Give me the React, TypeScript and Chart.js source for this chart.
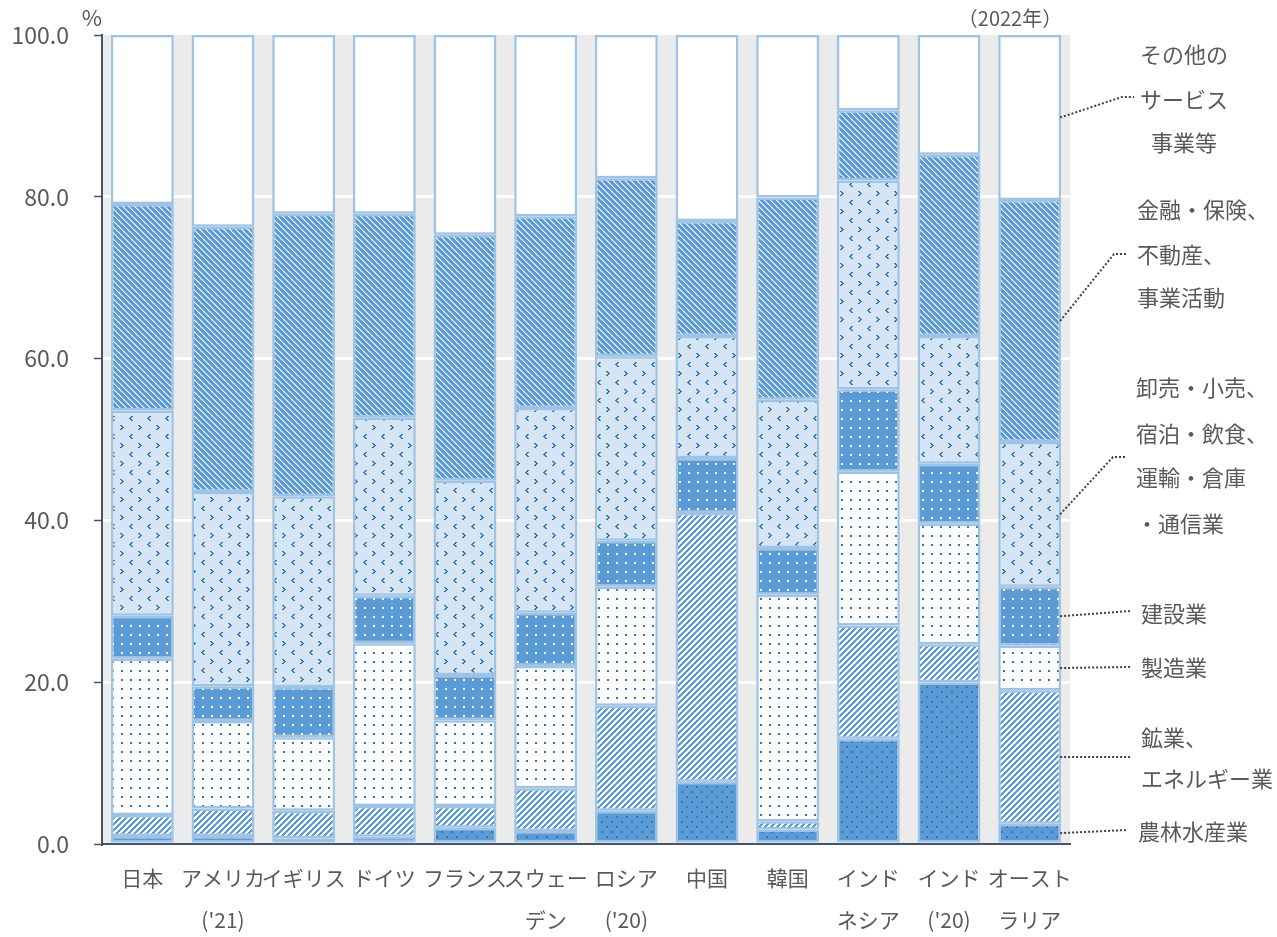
import React, { useEffect, useRef } from 'react';
import { Chart, registerables } from 'chart.js';
Chart.register(...registerables);

const categories: string[][] = [
  ['日本'], ['アメリカ', "('21)"], ['イギリス'], ['ドイツ'], ['フランス'], ['スウェー', 'デン'],
  ['ロシア', "('20)"], ['中国'], ['韓国'], ['インド', 'ネシア'], ['インド', "('20)"], ['オースト', 'ラリア'],
];

const agriculture = [1.0, 1.0, 0.7, 0.9, 2.0, 1.6, 4.1, 7.7, 1.8, 13.0, 20.0, 2.5];
const mining = [2.6, 3.4, 3.4, 3.8, 2.7, 5.3, 13.0, 33.2, 1.0, 14.0, 4.7, 16.5];
const manufacturing = [19.3, 10.8, 9.1, 20.1, 10.6, 15.1, 14.7, 0.0, 28.0, 19.0, 14.9, 5.5];
const construction = [5.3, 4.3, 6.2, 5.9, 5.6, 6.6, 5.7, 6.8, 5.8, 10.2, 7.4, 7.3];
const wholesale = [25.4, 24.0, 23.6, 22.0, 24.0, 25.3, 22.8, 15.1, 18.3, 25.8, 15.8, 17.9];
const finance = [25.5, 32.8, 34.9, 25.2, 30.4, 23.7, 22.0, 14.2, 25.0, 8.7, 22.4, 29.9];
const otherServices = [20.9, 23.7, 22.1, 22.1, 24.7, 22.4, 17.7, 23.0, 20.1, 9.3, 14.8, 20.4];

const seriesNames = ['農林水産業', '鉱業、エネルギー業', '製造業', '建設業', '卸売・小売、宿泊・飲食、運輸・倉庫・通信業', '金融・保険、不動産、事業活動', 'その他のサービス事業等'];
const yTicks = [0, 20, 40, 60, 80, 100];

const annotations = [
  { ds: 6, lines: ['その他の', 'サービス', '事業等'], x: 1184, ys: [55, 100, 143], align: 'center', bend: [1122, 97], end: [1134, 97] },
  { ds: 5, lines: ['金融・保険、', '不動産、', '事業活動'], x: 1137, ys: [210, 255, 298], align: 'left', bend: [1114, 254], end: [1128, 254] },
  { ds: 4, lines: ['卸売・小売、', '宿泊・飲食、', '運輸・倉庫', '・通信業'], x: 1136, ys: [388, 434, 478, 524], align: 'left', bend: [1113, 457], end: [1125, 457] },
  { ds: 3, lines: ['建設業'], x: 1141, ys: [614], align: 'left', bend: null, end: [1130, 611] },
  { ds: 2, lines: ['製造業'], x: 1141, ys: [668], align: 'left', bend: null, end: [1130, 667] },
  { ds: 1, lines: ['鉱業、', 'エネルギー業'], x: 1141, ys: [738, 779], align: 'left', bend: null, end: [1130, 757] },
  { ds: 0, lines: ['農林水産業'], x: 1138, ys: [832], align: 'left', bend: null, end: [1127, 830] },
];

const FONT = '"Noto Sans CJK JP", "Noto Sans", sans-serif';
const TEXT = '#595959';
const BLUE = '#5b9bd5';
const DARK = '#2e75b6';

function tile(w: number, h: number, draw: (g: CanvasRenderingContext2D) => void) {
  const c = document.createElement('canvas');
  c.width = w; c.height = h;
  const g = c.getContext('2d')!;
  draw(g);
  const tmp = document.createElement('canvas').getContext('2d')!;
  return tmp.createPattern(c, 'repeat')!;
}

function makePatterns() {
  const ag = tile(10, 10, g => {
    g.fillStyle = BLUE; g.fillRect(0, 0, 10, 10);
    g.fillStyle = '#3a78b8';
    g.fillRect(1, 1, 2, 2); g.fillRect(6, 6, 2, 2);
  });
  const mine = tile(6, 6, g => {
    for (let x = 0; x < 6; x++) for (let y = 0; y < 6; y++) {
      g.fillStyle = (x + y) % 6 < 3 ? BLUE : '#ffffff';
      g.fillRect(x, y, 1, 1);
    }
  });
  const manu = tile(9, 9, g => {
    g.fillStyle = '#ffffff'; g.fillRect(0, 0, 9, 9);
    g.fillStyle = DARK; g.fillRect(4, 4, 2, 2);
  });
  const cons = tile(9, 9, g => {
    g.fillStyle = BLUE; g.fillRect(0, 0, 9, 9);
    g.fillStyle = '#ffffff'; g.fillRect(4, 4, 2, 2);
  });
  const whole = tile(18, 18, g => {
    g.fillStyle = '#d6e5f4'; g.fillRect(0, 0, 18, 18);
    g.fillStyle = '#2f78bf';
    const lt = [[2, 0], [1, 1], [0, 2], [1, 3], [2, 4]];
    const gt = [[0, 0], [1, 1], [2, 2], [1, 3], [0, 4]];
    lt.forEach(([x, y]) => g.fillRect(3 + x, 2 + y, 2, 1));
    gt.forEach(([x, y]) => g.fillRect(12 + x, 11 + y, 2, 1));
  });
  const fin = tile(6, 6, g => {
    for (let x = 0; x < 6; x++) for (let y = 0; y < 6; y++) {
      const d = ((x - y) % 6 + 6) % 6;
      g.fillStyle = d === 0 ? '#ffffff' : d === 1 ? '#a9cbec' : BLUE;
      g.fillRect(x, y, 1, 1);
    }
  });
  return [ag, mine, manu, cons, whole, fin, '#ffffff'];
}

const bgPlugin = {
  id: 'bg',
  beforeDraw(chart: any) {
    const { ctx, chartArea: a } = chart;
    ctx.save();
    ctx.fillStyle = '#ebebeb';
    ctx.fillRect(a.left, a.top, a.right - a.left, a.bottom - a.top);
    ctx.restore();
  },
};

const notePlugin = {
  id: 'notes',
  afterDraw(chart: any) {
    const { ctx } = chart;
    ctx.save();
    ctx.fillStyle = TEXT;
    ctx.textBaseline = 'middle';
    ctx.font = `22px ${FONT}`;
    ctx.textAlign = 'center';
    ctx.fillText('%', 92, 18);
    ctx.font = `20px ${FONT}`;
    ctx.fillText('（2022年）', 1010, 18);
    ctx.font = `22px ${FONT}`;
    annotations.forEach(n => {
      const meta = chart.getDatasetMeta(n.ds);
      const el = meta.data[meta.data.length - 1];
      const p = el.getProps(['x', 'y', 'base', 'width'], true);
      const sx = p.x + p.width / 2 - 1;
      const sy = (p.y + p.base) / 2;
      ctx.strokeStyle = '#404040';
      ctx.lineWidth = 2;
      ctx.setLineDash([2, 2]);
      ctx.beginPath();
      ctx.moveTo(sx, sy);
      if (n.bend) ctx.lineTo(n.bend[0], n.bend[1]);
      ctx.lineTo(n.end[0], n.end[1]);
      ctx.stroke();
      ctx.setLineDash([]);
      ctx.textAlign = n.align as CanvasTextAlign;
      n.lines.forEach((t, i) => ctx.fillText(t, n.x, n.ys[i]));
    });
    ctx.restore();
  },
};

export default function App() {
  const ref = useRef<HTMLCanvasElement>(null);
  useEffect(() => {
    document.body.style.margin = '0';
    const pats = makePatterns();
    const values = [agriculture, mining, manufacturing, construction, wholesale, finance, otherServices];
    const chart = new Chart(ref.current!, {
      type: 'bar',
      data: {
        labels: categories,
        datasets: values.map((v, i) => ({
          label: seriesNames[i],
          data: v,
          backgroundColor: pats[i] as any,
          borderColor: '#9dc3e6',
          borderWidth: 2.5,
          borderSkipped: false,
          barPercentage: 0.78,
          categoryPercentage: 1,
        })),
      },
      options: {
        animation: false,
        responsive: false,
        devicePixelRatio: 1,
        layout: { padding: { top: 35, right: 207, left: 0, bottom: 0 } },
        plugins: { legend: { display: false }, tooltip: { enabled: false } },
        scales: {
          x: {
            stacked: true,
            afterFit: (s: any) => { s.height = 93; },
            grid: { color: 'rgba(0,0,0,0)', drawTicks: false },
            border: { display: true, color: '#44546a', width: 2 },
            ticks: {
              font: { family: FONT, size: 21, lineHeight: 2.0 },
              color: TEXT,
              padding: 13,
              maxRotation: 0,
              autoSkip: false,
            },
          },
          y: {
            stacked: true,
            min: 0,
            max: 100,
            afterFit: (s: any) => { s.width = 102; s.paddingTop = 0; s.paddingBottom = 0; },
            afterBuildTicks: (s: any) => { s.ticks = yTicks.map(v => ({ value: v })); },
            grid: {
              color: (c: any) => (c.tick && (c.tick.value === 0 || c.tick.value === 100) ? 'rgba(0,0,0,0)' : '#ffffff'),
              lineWidth: 3,
              tickColor: '#44546a',
              tickWidth: 1.5,
              tickLength: 8,
            },
            border: { display: true, color: '#44546a', width: 2 },
            ticks: {
              font: { family: FONT, size: 23 },
              color: TEXT,
              padding: 25,
              callback: (v: any) => Number(v).toFixed(1),
            },
          },
        },
      },
      plugins: [bgPlugin, notePlugin],
    });
    return () => chart.destroy();
  }, []);
  return <canvas ref={ref} width={1277} height={937} style={{ display: 'block' }} />;
}
